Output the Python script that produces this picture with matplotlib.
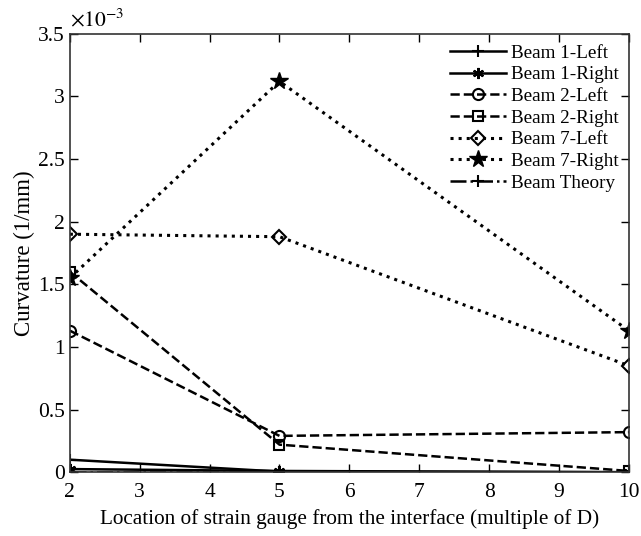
import numpy as np
import matplotlib
matplotlib.use("Agg")
import matplotlib.pyplot as plt

plt.rcParams['font.family'] = ['Liberation Serif', 'DejaVu Serif']
plt.rcParams['mathtext.fontset'] = 'stix'

# gauge location (multiple of D)
x = [2, 5, 10]

# curvature in units of 1e-3 1/mm
beam1_left = [0.10, 0.005, 0.0]
beam1_right = [0.025, 0.01, 0.0]
beam2_left = [1.13, 0.29, 0.32]
beam2_right = [1.60, 0.22, 0.01]
beam7_left = [1.90, 1.88, 0.85]
beam7_right = [1.55, 3.12, 1.13]
beam_theory = [0.0, 0.0, 0.0]

fig = plt.figure(figsize=(6.41, 5.36), dpi=100)
ax = fig.add_axes([0.109, 0.119, 0.872, 0.818])

lw = 1.8
ax.plot(x, beam1_left, '-', marker='+', ms=9, mew=1.5, c='k', lw=lw, label='Beam 1-Left')
ax.plot(x, beam1_right, '-', marker=(6, 2, 0), ms=8, mew=1.5, c='k', lw=lw, label='Beam 1-Right')
ax.plot(x, beam2_left, '--', marker='o', ms=8, mfc='none', mew=1.5, c='k', lw=lw, label='Beam 2-Left')
ax.plot(x, beam2_right, '--', marker='s', ms=7, mfc='none', mew=1.5, c='k', lw=lw, label='Beam 2-Right')
ax.plot(x, beam7_left, ':', marker='D', ms=7, mfc='none', mew=1.5, c='k', lw=2.2, label='Beam 7-Left')
ax.plot(x, beam7_right, ':', marker='*', ms=13, c='k', lw=2.2, label='Beam 7-Right')
ax.plot(x, beam_theory, '-.', marker='+', ms=9, mew=1.5, c='k', lw=lw, label='Beam Theory')

ax.set_xlim(2, 10)
ax.set_ylim(0, 3.5)
ax.set_xticks(range(2, 11))
ax.set_yticks(np.arange(0, 3.51, 0.5))
ax.set_yticklabels(['0', '0.5', '1', '1.5', '2', '2.5', '3', '3.5'])
ax.tick_params(direction='in', top=True, right=True, labelsize=15.5, length=6, width=1)
ax.tick_params(axis='x', pad=8)
for s in ax.spines.values():
    s.set_linewidth(1.2)
    s.set_color('#333333')

ax.set_xlabel('Location of strain gauge from the interface (multiple of D)', fontsize=15.3, labelpad=5)
ax.set_ylabel('Curvature (1/mm)', fontsize=16.5, labelpad=2)
ax.text(0.0, 1.005, r'$\times10^{-3}$', transform=ax.transAxes, fontsize=15.5, va='bottom', ha='left')

ax.legend(loc='upper right', frameon=False, fontsize=13.8, handlelength=2.9,
          labelspacing=0.22, borderaxespad=0.15, handletextpad=0.25)

fig.savefig('out.png', dpi=100)
